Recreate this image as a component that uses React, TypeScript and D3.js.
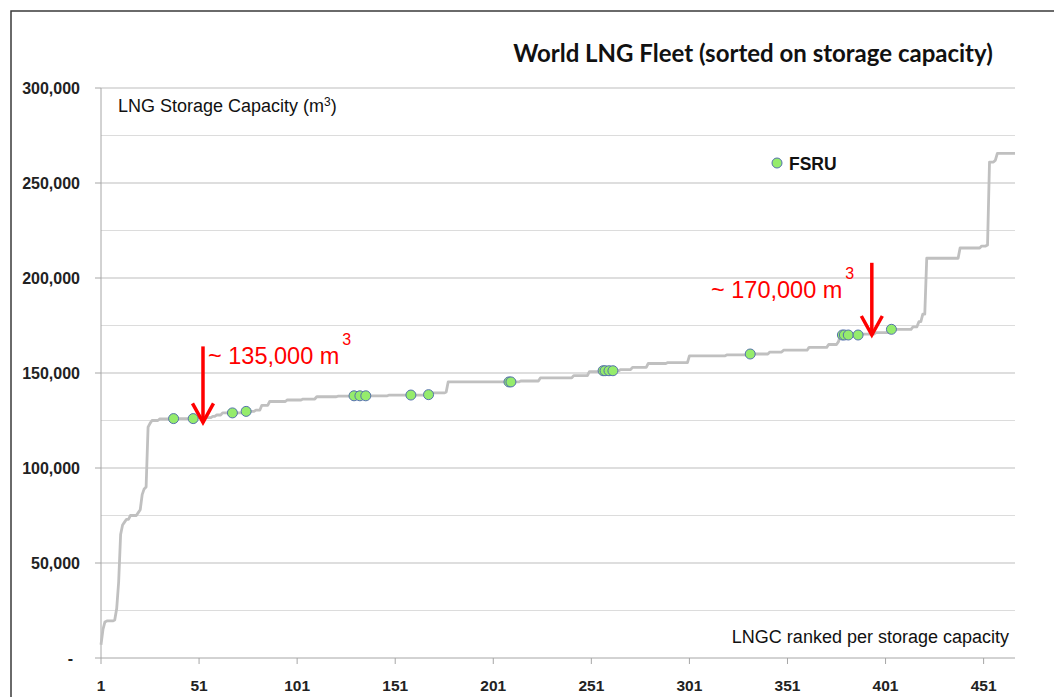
import * as d3 from 'd3';

// step runs: capacity holds from stepRank[i] until the next step
const stepRank = [
  1, 2, 3, 4, 8, 9, 10, 11, 12, 13, 14, 16, 20, 21, 22, 23, 24, 25, 26, 27, 31, 38, 50, 58, 60, 63,
  75, 80, 83, 87, 96, 104, 111, 122, 130, 148, 167, 169, 177, 178, 215, 225, 242, 250, 257, 266,
  272, 280, 290, 301, 320, 332, 342, 349, 362, 372, 377, 378, 388, 396, 404, 415, 418, 420, 422,
  439, 450, 453, 454, 457, 458,
];
const stepCapacity = [
  7000, 15000, 19000, 19500, 20000, 26000, 40000, 65000, 70000, 71500, 73000, 75000, 76500, 78000,
  86000, 89000, 90000, 121500, 123500, 125000, 125800, 126000, 126500, 127200, 127900, 129000,
  129800, 130500, 133000, 135000, 135800, 136300, 137500, 137800, 138000, 138400, 138600, 139500,
  140000, 145300, 145800, 147400, 148600, 150700, 151200, 151800, 153000, 155000, 155500, 159000,
  159500, 160000, 161000, 162000, 163500, 165000, 166500, 170000, 170500, 171200, 173000, 174300,
  177000, 181000, 210400, 215800, 216800, 217400, 261000, 262000, 265600,
];
const shipCount = 467;

// ranks of the FSRU vessels
const fsruRank = [38, 48, 68, 75, 130, 133, 136, 159, 168, 209, 210, 257, 258, 260, 262, 332, 379, 380, 382, 387, 404];

const yTicks = [0, 50000, 100000, 150000, 200000, 250000, 300000];
const yGrid = [25000, 50000, 75000, 100000, 125000, 150000, 175000, 200000, 225000, 250000, 275000, 300000];
const xTicks = [1, 51, 101, 151, 201, 251, 301, 351, 401, 451];

const annotations = [
  { label: '~ 135,000 m', rank: 53, from: 164000, to: 124000, textX: 208, textY: 364 },
  { label: '~ 170,000 m', rank: 394, from: 208000, to: 170000, textX: 711, textY: 298 },
];

const W = 1054;
const H = 697;
const left = 101;
const right = 1015;
const top = 88;
const bottom = 658;

export default function App() {
  const fleet = d3.range(1, shipCount + 1).map((rank) => {
    const i = d3.bisectRight(stepRank, rank) - 1;
    return { rank, capacity: stepCapacity[i] };
  });

  const x = d3.scaleLinear().domain([1, shipCount]).range([left, right]);
  const y = d3.scaleLinear().domain([0, 300000]).range([bottom, top]);

  const line = d3
    .line<{ rank: number; capacity: number }>()
    .x((d) => x(d.rank))
    .y((d) => y(d.capacity));

  const fmt = d3.format(',');
  const sans = '"Liberation Sans", Arial, sans-serif';
  const title = 'Lato, "Liberation Sans", sans-serif';

  return (
    <div style={{ position: 'absolute', left: 0, top: 0 }}>
      <svg width={W} height={H} style={{ display: 'block', background: '#fff' }}>
        <rect x={11} y={11} width={W} height={H} fill="none" stroke="#3a3a3a" strokeWidth={1.5} />

        <text x={753} y={62} textAnchor="middle" fontFamily={title} fontWeight={700} fontSize={24} fill="#111">
          World LNG Fleet (sorted on storage capacity)
        </text>

        {yGrid.map((v) => (
          <line
            key={v}
            x1={left}
            x2={right}
            y1={y(v)}
            y2={y(v)}
            stroke={v % 50000 === 0 ? '#bdbdbd' : '#dcdcdc'}
            strokeWidth={1}
          />
        ))}
        {yTicks.map((v) => (
          <g key={v}>
            <line x1={left - 6} x2={left} y1={y(v)} y2={y(v)} stroke="#a6a6a6" />
            <text
              x={v === 0 ? 73 : 80}
              y={y(v) + 5.5}
              textAnchor="end"
              fontFamily={sans}
              fontWeight={700}
              fontSize={16}
              fill="#222"
            >
              {v === 0 ? '-' : fmt(v)}
            </text>
          </g>
        ))}

        <line x1={left} x2={left} y1={top} y2={bottom} stroke="#a6a6a6" />
        <line x1={left} x2={right} y1={bottom} y2={bottom} stroke="#a6a6a6" />
        {xTicks.map((t) => (
          <g key={t}>
            <line x1={x(t)} x2={x(t)} y1={bottom} y2={bottom + 6} stroke="#a6a6a6" />
            <text x={x(t)} y={691} textAnchor="middle" fontFamily={sans} fontWeight={700} fontSize={15.5} fill="#222">
              {t}
            </text>
          </g>
        ))}

        <text x={118} y={112} fontFamily={sans} fontSize={18} fill="#111">
          LNG Storage Capacity (m
          <tspan dy={-6} fontSize={12}>
            3
          </tspan>
          <tspan dy={6}>)</tspan>
        </text>
        <text x={1009} y={643} textAnchor="end" fontFamily={sans} fontSize={18} fill="#111">
          LNGC ranked per storage capacity
        </text>

        <path d={line(fleet) ?? ''} fill="none" stroke="#c0c0c0" strokeWidth={2.8} strokeLinejoin="round" />

        {fsruRank.map((r) => (
          <circle
            key={r}
            cx={x(r)}
            cy={y(fleet[r - 1].capacity)}
            r={5}
            fill="#95ec6c"
            stroke="#5571ad"
            strokeWidth={1}
          />
        ))}

        <circle cx={777} cy={163} r={5} fill="#95ec6c" stroke="#5571ad" strokeWidth={1} />
        <text x={789} y={170} fontFamily={sans} fontWeight={700} fontSize={17.5} fill="#111">
          FSRU
        </text>

        {annotations.map((a) => {
          const ax = x(a.rank);
          const y0 = y(a.from);
          const y1 = y(a.to);
          return (
            <g key={a.label}>
              <line x1={ax} x2={ax} y1={y0} y2={y1} stroke="#ff0000" strokeWidth={3.5} />
              <path
                d={`M${ax - 10.5},${y1 - 19} L${ax},${y1} L${ax + 10.5},${y1 - 19}`}
                fill="none"
                stroke="#ff0000"
                strokeWidth={3.5}
              />
              <text x={a.textX} y={a.textY} fontFamily={sans} fontSize={23.5} fill="#ff0000">
                {a.label}
                <tspan dx={3} dy={-19} fontSize={16}>
                  3
                </tspan>
              </text>
            </g>
          );
        })}
      </svg>
    </div>
  );
}
